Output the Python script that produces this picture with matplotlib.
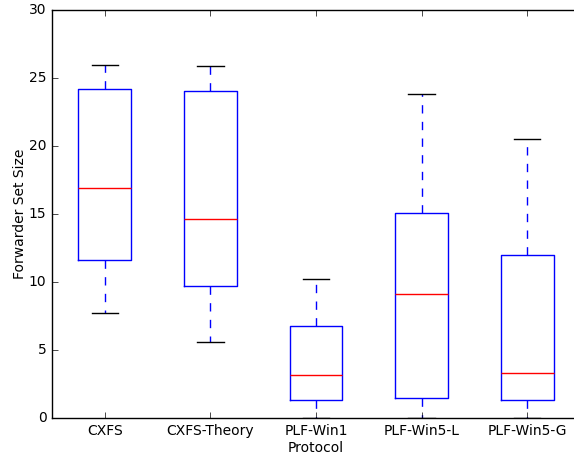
import matplotlib
matplotlib.use("Agg")
import matplotlib.pyplot as plt

plt.style.use('classic')

labels = ["CXFS", "CXFS-Theory", "PLF-Win1", "PLF-Win5-L", "PLF-Win5-G"]
whislo = [7.7, 5.6, 0.0, 0.0, 0.0]
q1 = [11.6, 9.7, 1.3, 1.45, 1.3]
med = [16.9, 14.6, 3.15, 9.1, 3.3]
q3 = [24.2, 24.05, 6.8, 15.1, 11.95]
whishi = [25.95, 25.85, 10.2, 23.85, 20.5]

stats = []
for i, lab in enumerate(labels):
    stats.append(dict(label=lab, whislo=whislo[i], q1=q1[i], med=med[i],
                      q3=q3[i], whishi=whishi[i], fliers=[]))

fig = plt.figure(figsize=(5.74, 4.57), dpi=100, facecolor='white')
ax = fig.add_axes([0.0906, 0.0853, 0.920, 0.893])
ax.bxp(stats, widths=0.5,
       boxprops=dict(color='blue'),
       medianprops=dict(color='red'),
       whiskerprops=dict(color='blue', linestyle='--'),
       capprops=dict(color='black'),
       showfliers=False)
ax.set_ylim(0, 30)
ax.set_xlim(0.5, 5.5)
ax.spines['right'].set_visible(False)
ax.set_xlabel("Protocol", fontsize=10, labelpad=2.5)
ax.set_ylabel("Forwarder Set Size", fontsize=10, labelpad=1.5)
ax.tick_params(labelsize=10)
fig.savefig("out.png", dpi=100, facecolor='white')
